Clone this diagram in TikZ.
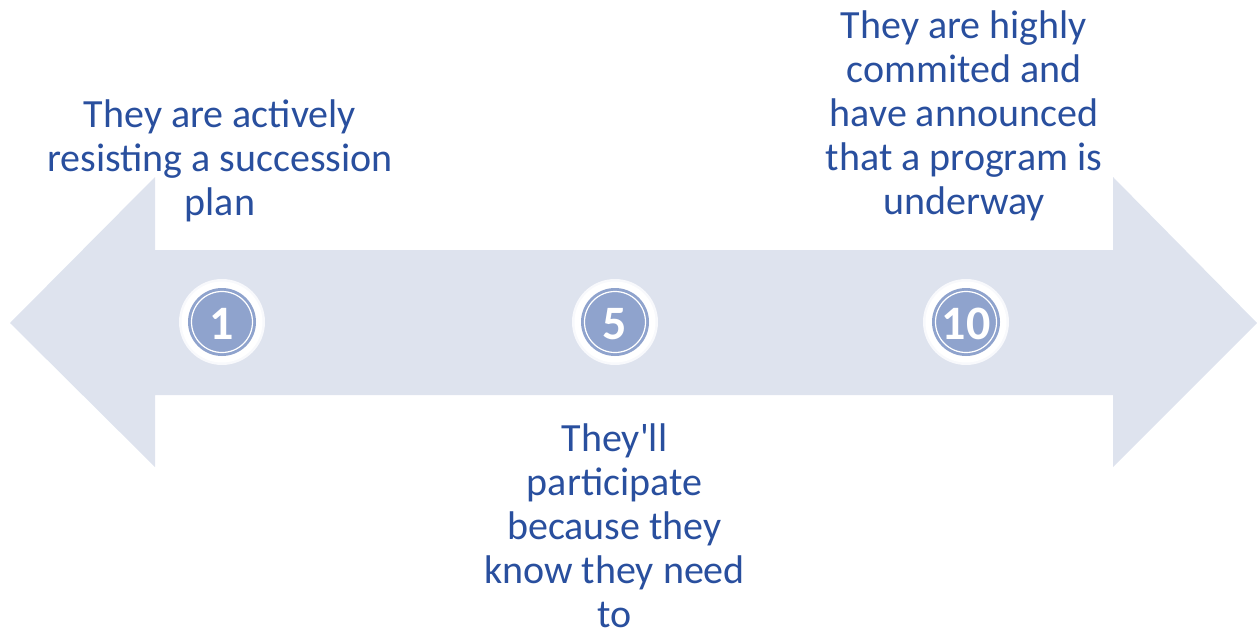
\documentclass[tikz,border=0pt]{standalone}
\usepackage{fontspec}
\setmainfont{Carlito}[Ligatures=TeXOff]
\definecolor{arrowfill}{RGB}{222,227,238}
\definecolor{discfill}{RGB}{143,163,205}
\definecolor{txtblue}{RGB}{41,79,158}
\begin{document}
\begin{tikzpicture}[x=1pt,y=-1pt,
  label/.style={align=center,inner sep=0pt,text=txtblue,font=\fontsize{40}{44}\selectfont},
  num/.style={text=white,font=\bfseries\fontsize{48}{48}\selectfont,inner sep=0pt}]
\useasboundingbox (0,0) rectangle (1257,634);
% double arrow
\fill[arrowfill] (10,323) -- (155,177) -- (155,250) -- (1113,250) -- (1113,177)
  -- (1257,323) -- (1113,467) -- (1113,395) -- (155,395) -- (155,467) -- cycle;
% discs
\foreach \n/\x in {a/222,b/615,c/966}{
  \fill[white!80!arrowfill] (\x,322) circle (43);
  \fill[white] (\x,322) circle (40.5);
  \fill[discfill] (\x,322) circle (34);
  \draw[white,line width=1.2pt] (\x,322) circle (30.5);
}
\node[num] (n1) at (222,324) {1};
\node[num] (n5) at (615,324) {5};
\node[num] (n10) at (966,324) {10};
% texts
\node[label] (t1) at (220,160.5) {They are actively\\resisting a succession\\plan};
\node[label] (t5) at (614.5,526) {They'll\\participate\\because they\\know they need\\to};
\node[label] (t10) at (964,116) {They are highly\\commited and\\have announced\\that a program is\\underway};
\end{tikzpicture}
\end{document}
